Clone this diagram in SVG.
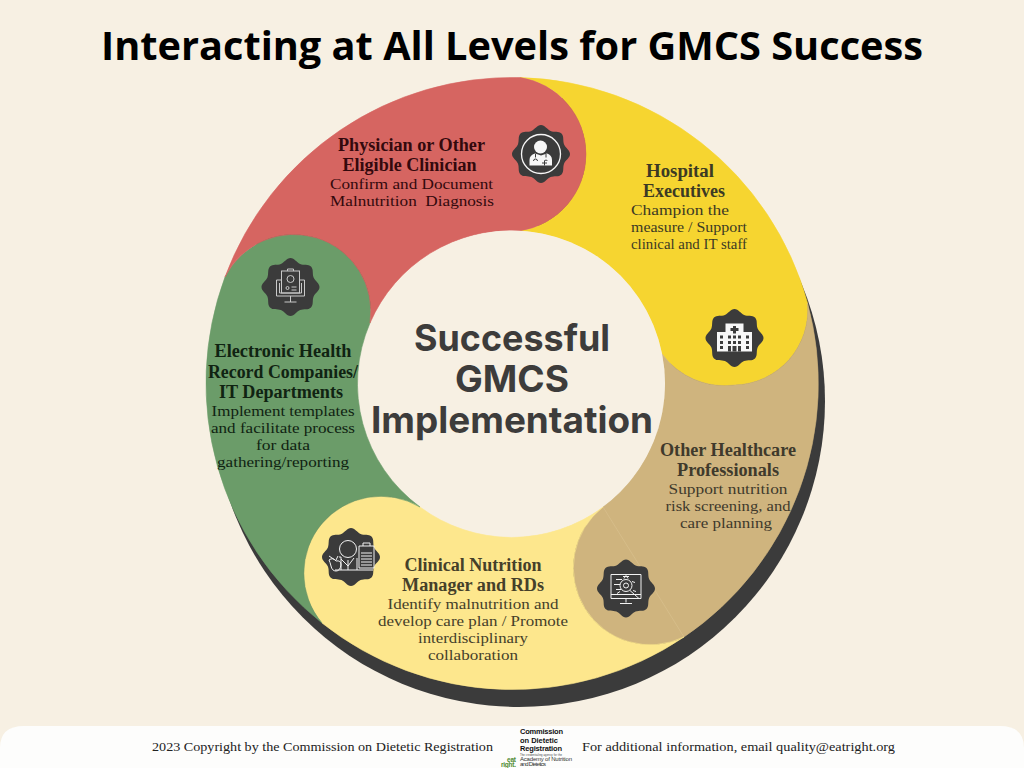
<svg xmlns="http://www.w3.org/2000/svg" width="1024" height="768" viewBox="0 0 1024 768">
<style>
.title{font-family:"Open Sans","Liberation Sans",sans-serif;font-weight:700;font-size:40px;text-anchor:middle;fill:#000}
.centre{font-family:"Inter","Liberation Sans",sans-serif;font-weight:700;font-size:37px;text-anchor:middle;fill:#3d3c3b}
.h{font-family:"Liberation Serif",serif;font-weight:700;font-size:18px;text-anchor:middle}
.b{font-family:"Liberation Serif",serif;font-size:15px;text-anchor:middle}
.foot{font-family:"Liberation Serif",serif;font-size:13px;fill:#222}
.logo{font-family:"Liberation Sans",sans-serif;font-weight:700;fill:#111}
.logo2{font-family:"Liberation Sans",sans-serif;fill:#333}
.ln{fill:none;stroke:#f2f2f2;stroke-width:1}
.ln2{fill:none;stroke:#c9c9c9;stroke-width:1}
.wf{fill:#f7f7f7}
.df{fill:#3b3b3b}
.badge{fill:#3b3b3b}
</style>
<defs>
<path id="scallop" d="M29 0C29 4 24.63 5.87 23.1 9.57C21.57 13.27 23.33 17.67 20.5 20.5C17.67 23.33 13.27 21.57 9.57 23.1C5.87 24.63 4 29 0 29C-4 29 -5.87 24.63 -9.57 23.1C-13.27 21.57 -17.67 23.33 -20.5 20.5C-23.33 17.67 -21.57 13.27 -23.1 9.57C-24.63 5.87 -29 4 -29 0C-29 -4 -24.63 -5.87 -23.1 -9.57C-21.57 -13.27 -23.33 -17.67 -20.5 -20.5C-17.67 -23.33 -13.27 -21.57 -9.57 -23.1C-5.87 -24.63 -4 -29 0 -29C4 -29 5.87 -24.63 9.57 -23.1C13.27 -21.57 17.67 -23.33 20.5 -20.5C23.33 -17.67 21.57 -13.27 23.1 -9.57C24.63 -5.87 29 -4 29 0Z"/>
</defs>
<rect width="1024" height="768" fill="#f7f0e3"/>
<path d="M0 768V748Q0 726 24 726H1000Q1024 726 1024 748V768Z" fill="#fdfdfc"/>
<text class="title" x="512" y="60" textLength="822" lengthAdjust="spacingAndGlyphs">Interacting at All Levels for GMCS Success</text>
<circle id="ring-shadow" cx="519" cy="401" r="306" fill="#3b3b3b"/>
<circle id="ring-hole" cx="512" cy="383.500" r="160" fill="#f7f0e3"/>
<g id="connectors"/>

<g id="node-hospital">
<path stroke="#f6d530" stroke-width=".6" fill="#f6d530" d="M520 77.600A306 306 0 0 1 807.500 303A75 75 0 0 1 735 385A78 78 0 0 1 662 354A153 153 0 0 0 520 230.700A77.400 77.400 0 0 0 520 77.600Z"/>
<g fill="#3c3a24">
<text class="h" x="680" y="177" textLength="68" lengthAdjust="spacingAndGlyphs">Hospital</text>
<text class="h" x="684" y="197" textLength="82" lengthAdjust="spacingAndGlyphs">Executives</text>
<text class="b" x="680" y="215" textLength="98" lengthAdjust="spacingAndGlyphs">Champion the</text>
<text class="b" x="689" y="232" textLength="116" lengthAdjust="spacingAndGlyphs">measure / Support</text>
<text class="b" x="689" y="249" textLength="116" lengthAdjust="spacingAndGlyphs">clinical and IT staff</text>
</g>
<g transform="translate(734.500 338)">
<use href="#scallop" class="badge"/>
<path class="wf" d="M-9 -14.500H9V-6H17.500V13.500H-17.500V-6H-9Z"/>
<path class="df" d="M-1.500 -12H1.500V-10H4V-7H1.500V-4.500H-1.500V-7H-4V-10H-1.500Z"/>
<path class="df" d="M-14.500 -2.500h3v3h-3zM-14.500 3h3v3h-3zM-14.500 8h3v3h-3zM11.500 -2.500h3v3h-3zM11.500 3h3v3h-3zM11.500 8h3v3h-3zM-6.500 -2.500h3v3h-3zM-1.500 -2.500h3v3h-3zM3.500 -2.500h3v3h-3zM-6.500 3h3v3h-3zM-1.500 3h3v3h-3zM3.500 3h3v3h-3zM-6.500 8h3v5.500h-3zM-2 8h4v5.500h-4zM3.500 8h3v5.500h-3z"/>
</g>
</g>

<g id="node-other-professionals">
<path stroke="#cfb47e" stroke-width=".6" fill="#cfb47e" d="M807.500 303A306 306 0 0 1 684 637A77 77 0 0 1 603 507A153 153 0 0 0 662 354A78 78 0 0 0 735 385A75 75 0 0 0 807.500 303Z"/>
<path d="M603 507L684 637" stroke="#d8c08e" stroke-width=".7" fill="none"/>
<g fill="#3f3a2c">
<text class="h" x="728" y="456" textLength="136" lengthAdjust="spacingAndGlyphs">Other Healthcare</text>
<text class="h" x="728" y="476" textLength="102" lengthAdjust="spacingAndGlyphs">Professionals</text>
<text class="b" x="728" y="494" textLength="119" lengthAdjust="spacingAndGlyphs">Support nutrition</text>
<text class="b" x="728" y="511" textLength="125" lengthAdjust="spacingAndGlyphs">risk screening, and</text>
<text class="b" x="726" y="528" textLength="92" lengthAdjust="spacingAndGlyphs">care planning</text>
</g>
<g transform="translate(626 588.500)">
<use href="#scallop" class="badge"/>
<path class="ln" d="M-15 -14H15V10H-15ZM-15 6H15M0 10V14M-6 15H6"/>
<circle class="ln" cx="0" cy="-3" r="6"/>
<circle class="ln" cx="0" cy="-3" r="2.500"/>
<path class="ln" d="M-3 -12L3 -12M-10 -9H-4M-12 -4H-6M-10 1H-5M4 2L13 10"/>
<path class="ln" d="M-2 -10L0 -13L2 -10M6 -7L9 -6M7 2L10 3M-6 3L-9 5"/>
</g>
</g>

<g id="node-clinical-nutrition">
<path stroke="#fde78d" stroke-width=".6" fill="#fde78d" d="M684 637A306 306 0 0 1 322 623A77 77 0 0 1 420 507A153 153 0 0 0 603 507A77 77 0 0 0 684 637Z"/>
<g fill="#45402a">
<text class="h" x="473" y="571" textLength="137" lengthAdjust="spacingAndGlyphs">Clinical Nutrition</text>
<text class="h" x="473" y="591" textLength="142" lengthAdjust="spacingAndGlyphs">Manager and RDs</text>
<text class="b" x="473" y="609" textLength="171" lengthAdjust="spacingAndGlyphs">Identify malnutrition and</text>
<text class="b" x="473" y="626" textLength="190" lengthAdjust="spacingAndGlyphs">develop care plan / Promote</text>
<text class="b" x="473" y="643" textLength="110" lengthAdjust="spacingAndGlyphs">interdisciplinary</text>
<text class="b" x="473" y="660" textLength="90" lengthAdjust="spacingAndGlyphs">collaboration</text>
</g>
<g transform="translate(351 557)">
<use href="#scallop" class="badge"/>
<circle class="ln" cx="-3" cy="-8" r="8.500"/>
<path class="ln" d="M-16 13H22M-10 2L-3 9L3 1M-3 3V13M-12 0H-10V13M6 1V13"/>
<path class="ln" d="M-22 3Q-18 0 -15 4Q-10 3 -10 8Q-11 14 -15 14Q-19 14 -20 9Q-21 5 -22 3ZM-15 3L-13 -1M-22 -1L-16 3"/>
<path class="ln" d="M8 -11H23V11H8ZM12 -11V-14H19V-11"/>
<path class="ln" d="M10 -4H21M10 -1H21M10 2H21M10 5H21M10 8H21"/>
</g>
</g>

<g id="node-ehr">
<path stroke="#6b9c69" stroke-width=".6" fill="#6b9c69" d="M322 623A306 306 0 0 1 225 277A77 77 0 0 1 370 323A153 153 0 0 0 420 507A77 77 0 0 0 322 623Z"/>
<g fill="#102312">
<text class="h" x="283" y="357" textLength="137" lengthAdjust="spacingAndGlyphs">Electronic Health</text>
<text class="h" x="283" y="378" textLength="150" lengthAdjust="spacingAndGlyphs">Record Companies/</text>
<text class="h" x="281" y="398" textLength="124" lengthAdjust="spacingAndGlyphs">IT Departments</text>
<text class="b" x="283" y="416" textLength="143" lengthAdjust="spacingAndGlyphs">Implement templates</text>
<text class="b" x="283" y="433" textLength="144" lengthAdjust="spacingAndGlyphs">and facilitate process</text>
<text class="b" x="283" y="450" textLength="54" lengthAdjust="spacingAndGlyphs">for data</text>
<text class="b" x="283" y="467" textLength="132" lengthAdjust="spacingAndGlyphs">gathering/reporting</text>
</g>
<g transform="translate(290.500 287)">
<use href="#scallop" class="badge"/>
<path class="ln2" d="M-14 -7H-9M9 -7H14V9H-14V-7M-11 -4V6H11V-4M-6 15H6M0 9V15"/>
<rect class="ln2" x="-9" y="-16" width="18" height="22"/>
<path class="ln2" d="M-3 -16V-18H3V-16"/>
<circle class="ln2" cx="0" cy="-8" r="3.500"/>
<circle class="ln2" cx="-3" cy="1" r="1.500"/>
<path class="ln2" d="M1 0H6M1 3H6"/>
</g>
</g>

<g id="node-physician">
<path stroke="#d66561" stroke-width=".6" fill="#d66561" d="M225 277A306 306 0 0 1 520 77.600A77.400 77.400 0 0 1 520 230.700A153 153 0 0 0 370 323A77 77 0 0 0 225 277Z"/>
<g fill="#33090d">
<text class="h" x="411.500" y="151" textLength="147" lengthAdjust="spacingAndGlyphs">Physician or Other</text>
<text class="h" x="409.500" y="171" textLength="134" lengthAdjust="spacingAndGlyphs">Eligible Clinician</text>
<text class="b" x="411.500" y="189" textLength="163" lengthAdjust="spacingAndGlyphs">Confirm and Document</text>
<text class="b" x="412" y="206" textLength="164" lengthAdjust="spacingAndGlyphs" xml:space="preserve">Malnutrition  Diagnosis</text>
</g>
<g transform="translate(541 154)">
<use href="#scallop" class="badge"/>
<circle cx="0" cy="0" r="19.500" fill="none" stroke="#f7f7f7" stroke-width="1.300"/>
<circle class="wf" cx="-0.500" cy="-7" r="6.500"/>
<path class="wf" d="M-11.500 11.500V6Q-11.500 1 -6 -0.500L0 1.500L6 -0.500Q11 1 11 6V11.500Z"/>
<path fill="none" stroke="#3b3b3b" stroke-width="1" d="M-5.500 0V3.500M-7.500 7A2 2 0 0 1 -3.500 7M5 0V3.500M3.500 7A1.700 1.700 0 0 1 6.500 7M1 9H6M3.500 6.500V11.500"/>
</g>
</g>

<g id="node-centre">
<circle cx="512" cy="383.500" r="153" fill="#f7f0e3"/>
<text class="centre" x="512" y="351" textLength="196" lengthAdjust="spacingAndGlyphs">Successful</text>
<text class="centre" x="512" y="392" textLength="114" lengthAdjust="spacingAndGlyphs">GMCS</text>
<text class="centre" x="512" y="433" textLength="282" lengthAdjust="spacingAndGlyphs">Implementation</text>
</g>

<g id="footer">
<text class="foot" x="152" y="751" textLength="341" lengthAdjust="spacingAndGlyphs">2023 Copyright by the Commission on Dietetic Registration</text>
<text class="foot" x="582" y="751" textLength="313" lengthAdjust="spacingAndGlyphs">For additional information, email quality@eatright.org</text>
<g id="logo">
<text class="logo" x="520" y="734" font-size="7.500" textLength="43">Commission</text>
<text class="logo" x="520" y="742.500" font-size="7.500" textLength="38">on Dietetic</text>
<text class="logo" x="520" y="751" font-size="7.500" textLength="42">Registration</text>
<text class="logo2" x="520" y="755.500" font-size="2.600" textLength="42">The credentialing agency for the</text>
<text class="logo2" x="520" y="761" font-size="6" textLength="52">Academy of Nutrition</text>
<text class="logo2" x="520" y="766" font-size="6" textLength="26">and Dietetics</text>
<text class="logo" x="507" y="762" font-size="6.500" style="fill:#4f8a2f" textLength="9">eat</text>
<text class="logo" x="501" y="767" font-size="6.500" style="fill:#4f8a2f" textLength="15">right.</text>
</g>
</g>
</svg>
